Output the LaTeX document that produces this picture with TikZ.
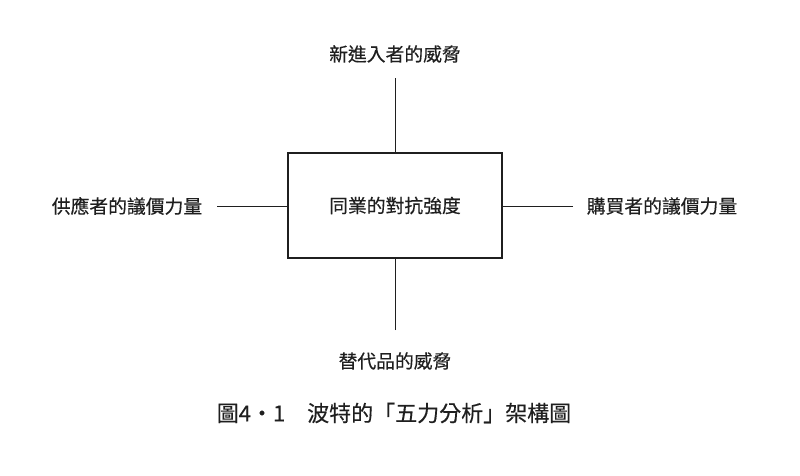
\documentclass[tikz,border=0pt]{standalone}
\usepackage{fontspec}
\newfontfamily\cjk[FakeBold=0.4]{Noto Sans CJK TC}
\definecolor{ink}{gray}{0.12}
\begin{document}
\begin{tikzpicture}[x=1pt,y=-1pt,
  lbl/.style={font=\cjk\fontsize{18.8}{20}\selectfont, text=ink, inner sep=0pt},
  captxt/.style={font=\cjk\fontsize{22}{24}\selectfont, text=ink, inner sep=0pt},
  link/.style={draw=ink, line width=1pt},
  centerbox/.style={draw=ink, line width=1.3pt, minimum width=214pt, minimum height=105pt, inner sep=0pt}]
\useasboundingbox (0,0) rectangle (800,475);
\node[centerbox, lbl] (c) at (395,205.5) {同業的對抗強度};
\node[lbl] (t) at (395,54) {新進入者的威脅};
\node[lbl] (b) at (395,361) {替代品的威脅};
\node[lbl] (l) at (127,206) {供應者的議價力量};
\node[lbl] (r) at (662,206) {購買者的議價力量};
\node[captxt] (k) at (394,413) {圖4・1\quad 波特的「五力分析」架構圖};
\coordinate (te) at (395,78);
\coordinate (be) at (395,330);
\coordinate (le) at (217,206);
\coordinate (re) at (573,206);
\draw[link] (te) -- (c.north);
\draw[link] (be) -- (c.south);
\draw[link] (le) -- (c.west |- le);
\draw[link] (re) -- (c.east |- re);
\end{tikzpicture}
\end{document}
